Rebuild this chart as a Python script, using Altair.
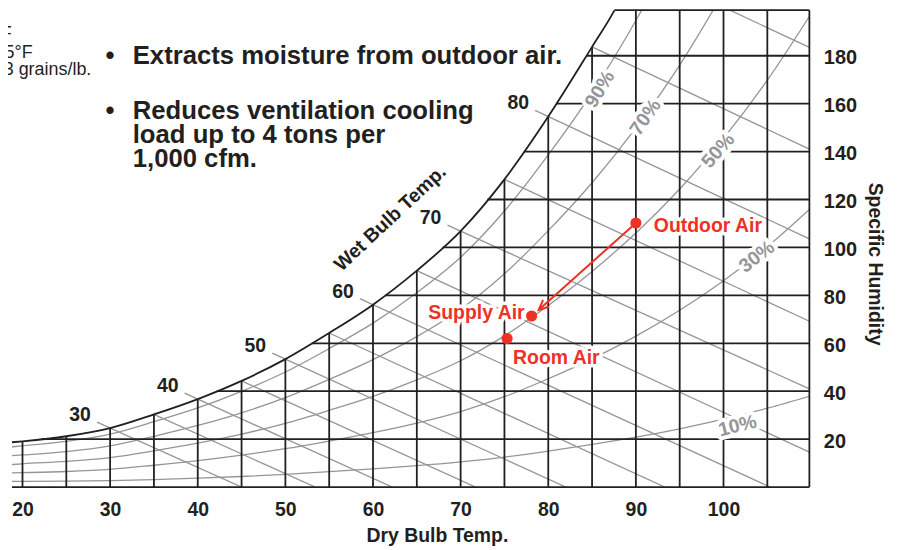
import altair as alt
import numpy as np
import pandas as pd

FONT = "Liberation Sans"
BLACK = "#231f20"
GRAY = "#939598"
RED = "#ee3124"

T_MIN, T_MAX = 18.8, 109.8
W_MIN, W_MAX = 0.0, 199.0

# ---- data ----
# saturation curve: dry bulb (F) -> grains/lb
sat_T = [18.8, 20, 25, 30, 35, 40, 45, 50, 55, 60, 65, 70, 75, 80, 85, 87.5, 90]
sat_w = [18.7, 19.1, 21.2, 24.6, 30.3, 36.7, 44.3, 53.4, 64.3, 76.1, 90.3, 106.8, 128.4, 154.6, 183.7, 198.6, 217.4]

# relative humidity curves
rh_T = [18.8, 20, 25, 30, 35, 40, 45, 50, 55, 60, 65, 70, 75, 80, 85, 90, 95, 100, 105, 110]
rh_90 = [16.8, 17.2, 19.1, 22.1, 27.3, 33.0, 39.9, 48.0, 57.8, 68.4, 81.1, 95.9, 115.2, 138.6, 164.6, 194.7, 229.1]
rh_70 = [13.1, 13.4, 14.8, 17.2, 21.2, 25.7, 31.0, 37.3, 44.9, 53.2, 62.8, 74.2, 89.0, 107.0, 127.0, 149.9, 176.1, 206.4]
rh_50 = [9.4, 9.7, 10.7, 12.3, 15.1, 18.3, 22.1, 26.6, 32.0, 37.8, 44.7, 52.7, 63.1, 75.8, 90.0, 106.0, 124.4, 145.5, 169.8, 197.6]
rh_30 = [5.9, 6.0, 6.5, 7.4, 9.1, 11.0, 13.3, 16.0, 19.2, 22.7, 26.7, 31.5, 37.7, 45.2, 53.5, 63.0, 73.8, 86.1, 100.3, 116.5]
rh_10 = [2.4, 2.4, 2.5, 2.7, 3.1, 3.7, 4.4, 5.3, 6.4, 7.6, 8.9, 10.5, 12.5, 15.0, 17.8, 20.8, 24.3, 28.3, 32.9, 38.1]
rh_names = ["90%", "70%", "50%", "30%", "10%"]
rh_series = [rh_90, rh_70, rh_50, rh_30, rh_10]

# RH label positions (dry bulb, grains)
rh_lab_T = [85.9, 91.1, 99.4, 103.8, 101.6]
rh_lab_w = [166.0, 154.3, 140.4, 96.1, 25.5]
rh_lab_angle = [301, 305, 311, 322, 346]

# wet bulb lines: wet bulb temp, end point (dry bulb, grains)
wb_T = [30, 35, 40, 45, 50, 55, 60, 65, 70, 75, 80, 85, 90]
wb_end_T = [45.0, 53.4, 62.2, 71.7, 82.0, 93.3, 105.3, 109.8, 109.8, 109.8, 109.8, 109.8, 109.8]
wb_end_w = [0, 0, 0, 0, 0, 0, 0, 14.6, 41.0, 69.2, 103.6, 141.0, 183.5]
wb_labelled = [30, 40, 50, 60, 70, 80]

# grid
grid_T = [20, 25, 30, 35, 40, 45, 50, 55, 60, 65, 70, 75, 80, 85, 90, 95, 100, 105]
grid_w = [20, 40, 60, 80, 100, 120, 140, 160, 180]
x_ticks = [20, 30, 40, 50, 60, 70, 80, 90, 100]

# state points
pt_names = ["Outdoor Air", "Supply Air", "Room Air"]
pt_T = [90.0, 78.1, 75.3]
pt_w = [110.2, 71.4, 62.0]
arrow_tip_T, arrow_tip_w = 78.9, 73.9

# ---- build tables ----
xs = alt.Scale(domain=[T_MIN, T_MAX], nice=False, zero=False)
ys = alt.Scale(domain=[W_MIN, W_MAX], nice=False, zero=False)

rows = []
for T in grid_T:
    top = min(float(np.interp(T, sat_T, sat_w)), W_MAX)
    rows.append(dict(x=T, x2=T, y=0.0, y2=top))
rows.append(dict(x=T_MAX, x2=T_MAX, y=0.0, y2=W_MAX))
for w in [0.0] + grid_w + [W_MAX]:
    start = max(float(np.interp(w, sat_w, sat_T)), T_MIN)
    rows.append(dict(x=start, x2=T_MAX, y=w, y2=w))
grid_df = pd.DataFrame(rows)

sat_df = pd.DataFrame({"x": sat_T, "y": sat_w})

rh_rows = []
for name, vals in zip(rh_names, rh_series):
    for T, w in zip(rh_T, vals):
        rh_rows.append(dict(curve=name, x=T, y=w))
rh_df = pd.DataFrame(rh_rows)

wb_rows = []
lab_rows = []
for T0, eT, ew in zip(wb_T, wb_end_T, wb_end_w):
    w0 = float(np.interp(T0, sat_T, sat_w))
    slope = (w0 - ew) / (eT - T0)
    sT, sw = T0, w0
    if T0 in wb_labelled:
        sT, sw = T0 - 1.5, w0 + 1.5 * slope
        lab_rows.append(dict(label=str(T0), x=sT, y=sw))
    wb_rows.append(dict(x=sT, y=sw, x2=eT, y2=ew))
wb_df = pd.DataFrame(wb_rows)
wblab_df = pd.DataFrame(lab_rows)

pts_df = pd.DataFrame({"name": pt_names, "x": pt_T, "y": pt_w})
arrow_df = pd.DataFrame({"x": [pt_T[0]], "y": [pt_w[0]], "x2": [arrow_tip_T], "y2": [arrow_tip_w]})
tip_df = pd.DataFrame({"x": [arrow_tip_T], "y": [arrow_tip_w]})

# ---- axes (identical on every layer so they merge) ----
LBL = 19.5
x_axis = alt.Axis(values=x_ticks, format="d", title="Dry Bulb Temp.", ticks=False, domain=False,
                  grid=False, labelPadding=14, labelFontSize=LBL, labelFontWeight="bold",
                  labelColor=BLACK, labelFont=FONT, titleFont=FONT, titleFontSize=LBL,
                  titleFontWeight="bold", titleColor=BLACK, titleX=426.8, titleY=48.5,
                  titleBaseline="middle", titleAlign="center", labelFlush=False, labelOverlap=False)
y_axis = alt.Axis(orient="right", values=grid_w, format="d", title="Specific Humidity", ticks=False,
                  domain=False, grid=False, labelPadding=14, labelOffset=2, labelFontSize=LBL + 0.5,
                  labelFontWeight="bold", labelColor=BLACK, labelFont=FONT, labelAlign="left",
                  labelBaseline="middle", titleFont=FONT, titleFontSize=LBL, titleFontWeight="bold",
                  titleColor=BLACK, titleAngle=90, titleX=65, titleY=254.5, titleBaseline="middle",
                  titleAlign="center", labelFlush=False, labelOverlap=False)

X = lambda: alt.X("x:Q", scale=xs, axis=x_axis, title="Dry Bulb Temp.")
Y = lambda: alt.Y("y:Q", scale=ys, axis=y_axis, title="Specific Humidity")

rh_layer = alt.Chart(rh_df).mark_line(color=GRAY, strokeWidth=1.3, interpolate="monotone", clip=True).encode(
    x=X(), y=Y(), detail="curve:N")
wb_layer = alt.Chart(wb_df).mark_rule(color=GRAY, strokeWidth=1.3, clip=True).encode(
    x=X(), x2="x2:Q", y=Y(), y2="y2:Q")
grid_layer = alt.Chart(grid_df).mark_rule(color=BLACK, strokeWidth=1.8).encode(
    x=X(), x2="x2:Q", y=Y(), y2="y2:Q")
sat_layer = alt.Chart(sat_df).mark_line(color=BLACK, strokeWidth=1.8, interpolate="monotone", clip=True).encode(
    x=X(), y=Y())
wblab_layer = alt.Chart(wblab_df).mark_text(font=FONT, fontSize=LBL, fontWeight="bold", color=BLACK,
                                             dx=-17, dy=-7, align="center", baseline="middle").encode(
    x=X(), y=Y(), text="label:N")

layers = [rh_layer, wb_layer, grid_layer, sat_layer, wblab_layer]

for name, T, w, a in zip(rh_names, rh_lab_T, rh_lab_w, rh_lab_angle):
    d = pd.DataFrame({"x": [T], "y": [w], "t": [name]})
    layers.append(alt.Chart(d).mark_text(font=FONT, fontSize=LBL, fontWeight="bold", angle=a,
                                         fill="white", stroke="white", strokeWidth=8, strokeJoin="round",
                                         align="center", baseline="middle").encode(x=X(), y=Y(), text="t:N"))
    layers.append(alt.Chart(d).mark_text(font=FONT, fontSize=LBL, fontWeight="bold", angle=a,
                                         fill=GRAY, align="center", baseline="middle").encode(
        x=X(), y=Y(), text="t:N"))

pt_label_style = {
    "Outdoor Air": dict(align="left", dx=18, dy=3),
    "Supply Air": dict(align="right", dx=-7, dy=-3),
    "Room Air": dict(align="left", dx=6, dy=20),
}
for name, T, w in zip(pt_names, pt_T, pt_w):
    d = pd.DataFrame({"x": [T], "y": [w], "t": [name]})
    st = pt_label_style[name]
    layers.append(alt.Chart(d).mark_text(font=FONT, fontSize=LBL, fontWeight="bold", fill="white",
                                         stroke="white", strokeWidth=7, strokeJoin="round",
                                         baseline="middle", **st).encode(x=X(), y=Y(), text="t:N"))
    layers.append(alt.Chart(d).mark_text(font=FONT, fontSize=LBL, fontWeight="bold", fill=RED,
                                         baseline="middle", **st).encode(x=X(), y=Y(), text="t:N"))

layers.append(alt.Chart(arrow_df).mark_rule(color=RED, strokeWidth=2).encode(
    x=X(), x2="x2:Q", y=Y(), y2="y2:Q"))
layers.append(alt.Chart(tip_df).mark_point(shape="M -2 -0.9 L 0 0 L -2 0.9", size=100, angle=138.5,
                                           filled=False, color=RED, strokeWidth=2, opacity=1).encode(
    x=X(), y=Y()))
layers.append(alt.Chart(pts_df).mark_circle(size=125, color=RED, opacity=1).encode(x=X(), y=Y()))

# ---- free text ----
dummy = pd.DataFrame({"a": [0]})


def txt(s, px, py, size, weight, align="left", **kw):
    return alt.Chart(dummy).mark_text(text=s, font=FONT, fontSize=size, fontWeight=weight, color=BLACK,
                                      align=align, baseline="alphabetic", **kw).encode(
        x=alt.value(px), y=alt.value(py))


BUL = 25.8
layers += [
    txt("\u2022", 94, -2, BUL, "bold"),
    txt("Cools outdoor air.", 121.3, -2, BUL, "bold"),
    txt("\u2022", 94, 54.3, BUL, "bold"),
    txt("Extracts moisture from outdoor air.", 121.3, 54.3, BUL, "bold"),
    txt("\u2022", 94, 109.3, BUL, "bold"),
    txt("Reduces ventilation cooling\nload up to 4 tons per\n1,000 cfm.", 121.3, 109.3, BUL, "bold",
        lineBreak="\n", lineHeight=24.3),
    txt("\u00b0F", -0.3, 29.3, 18, "normal", align="right"),
    txt(".5\u00b0F", 20.7, 47.7, 18, "normal", align="right"),
    txt("3 grains/lb.", 79.7, 65.5, 18, "normal", align="right"),
    alt.Chart(dummy).mark_text(text="Wet Bulb Temp.", font=FONT, fontSize=LBL, fontWeight="bold", color=BLACK,
                               angle=317, align="center", baseline="middle").encode(
        x=alt.value(380), y=alt.value(209)),
]

chart = alt.layer(*layers).properties(
    width=801, height=479,
    autosize=alt.AutoSizeParams(type="none"),
    padding={"left": 4, "top": 1, "right": 85, "bottom": 60},
    background="white",
).configure_view(stroke=None)

chart.save("out.html", embed_options={"renderer": "svg", "actions": False})
